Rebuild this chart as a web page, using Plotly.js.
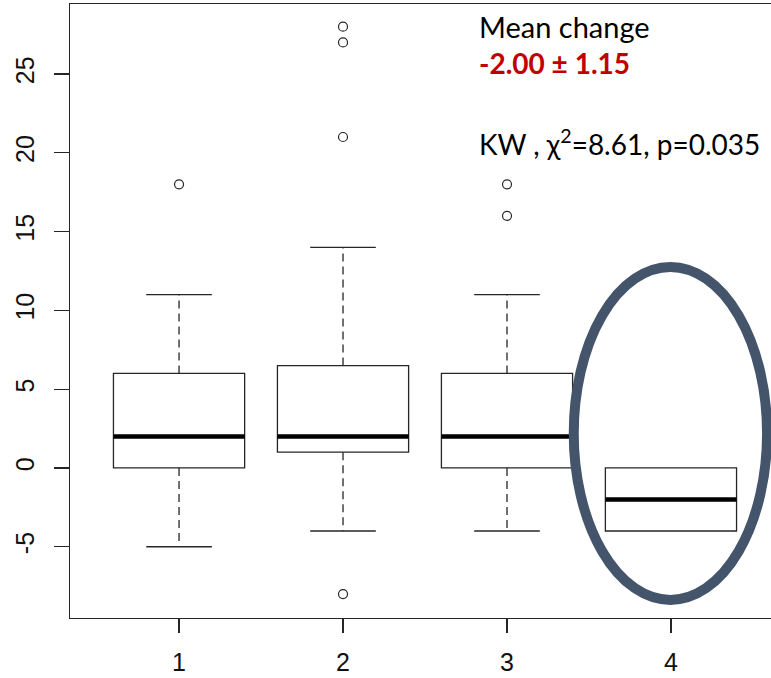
<!DOCTYPE html>
<html>
<head>
<meta charset="utf-8">
<script src="https://cdn.plot.ly/plotly-3.0.1.min.js"></script>
<style>html,body{margin:0;padding:0;background:#fff;}#chart{width:771px;height:678px;}</style>
</head>
<body>
<div id="chart"></div>
<script>
// ---- data ----
const groups = [1, 2, 3, 4];
const tickLabels = ['1', '2', '3', '4'];
const q1 = [0, 1, 0, -4];
const medians = [2, 2, 2, -2];
const q3 = [6, 6.5, 6, 0];
const whiskerLow = [-5, -4, -4, -4];
const whiskerHigh = [11, 14, 11, 0];
const outlierGroup = [1, 2, 2, 2, 2, 3, 3];
const outlierValue = [18, 28, 27, 21, -8, 18, 16];
const yTicks = [-5, 0, 5, 10, 15, 20, 25];

// ---- styling constants ----
const boxWidth = 0.8;
const capHalf = 0.2;
const ink = '#262626';

// whiskers (dashed) built from the arrays
const wx = [], wy = [];
groups.forEach((g, i) => {
  if (whiskerHigh[i] > q3[i]) { wx.push(g, g, null); wy.push(q3[i], whiskerHigh[i], null); }
  if (whiskerLow[i] < q1[i]) { wx.push(g, g, null); wy.push(q1[i], whiskerLow[i], null); }
});
// caps (solid)
const cx = [], cy = [];
groups.forEach((g, i) => {
  if (whiskerHigh[i] > q3[i]) { cx.push(g - capHalf, g + capHalf, null); cy.push(whiskerHigh[i], whiskerHigh[i], null); }
  if (whiskerLow[i] < q1[i]) { cx.push(g - capHalf, g + capHalf, null); cy.push(whiskerLow[i], whiskerLow[i], null); }
});
// medians (thick)
const mx = [], my = [];
groups.forEach((g, i) => { mx.push(g - boxWidth / 2, g + boxWidth / 2, null); my.push(medians[i], medians[i], null); });

const traces = [
  { type: 'scatter', mode: 'lines', x: wx, y: wy, line: { color: ink, width: 1.3, dash: '8px,5px' }, hoverinfo: 'skip', showlegend: false },
  { type: 'scatter', mode: 'lines', x: cx, y: cy, line: { color: ink, width: 1.3 }, hoverinfo: 'skip', showlegend: false },
  { type: 'box', x: groups, q1: q1, median: medians, q3: q3, lowerfence: q1, upperfence: q3,
    width: boxWidth, whiskerwidth: 0, fillcolor: '#ffffff', line: { color: ink, width: 1.3 },
    boxpoints: false, hoverinfo: 'skip', showlegend: false },
  { type: 'scatter', mode: 'lines', x: mx, y: my, line: { color: '#000', width: 4.5 }, hoverinfo: 'skip', showlegend: false },
  { type: 'scatter', mode: 'markers', x: outlierGroup, y: outlierValue,
    marker: { symbol: 'circle-open', size: 9, color: ink, line: { width: 1.2 } }, hoverinfo: 'skip', showlegend: false }
];

const axisFont = { family: '"Liberation Sans", Arial, sans-serif', size: 25, color: '#111' };
const noteFont = 'Lato, "Open Sans", sans-serif';
const noteX = (477 - 70) / 701;

const layout = {
  width: 771, height: 678,
  margin: { l: 70, r: 0, t: 4, b: 60, pad: 0 },
  paper_bgcolor: '#fff', plot_bgcolor: '#fff',
  showlegend: false,
  xaxis: {
    range: [0.335, 4.61], tickmode: 'array', tickvals: groups, ticktext: tickLabels,
    showgrid: false, zeroline: false, showline: true, mirror: true, linecolor: ink, linewidth: 1.3,
    ticks: 'outside', ticklen: 14, tickwidth: 1.3, tickcolor: ink, tickfont: axisFont,
    ticklabelstandoff: 8
  },
  yaxis: {
    range: [-9.52, 29.44], tickmode: 'array', tickvals: yTicks, ticktext: yTicks.map(String),
    showgrid: false, zeroline: false, showline: true, mirror: false, linecolor: ink, linewidth: 1.3,
    ticks: 'outside', ticklen: 15, tickwidth: 1.3, tickcolor: ink, tickfont: axisFont, tickangle: -90,
    ticklabelstandoff: 10
  },
  shapes: [
    { type: 'circle', xref: 'x', yref: 'y', x0: 3.407, x1: 4.586, y0: -8.37, y1: 12.75,
      line: { color: '#44546A', width: 10 }, fillcolor: 'rgba(0,0,0,0)' }
  ],
  annotations: [
    { xref: 'paper', yref: 'paper', x: noteX, y: (618 - 26) / 614, xanchor: 'left', yanchor: 'middle',
      text: 'Mean change', showarrow: false, font: { family: noteFont, size: 29, color: '#000' } },
    { xref: 'paper', yref: 'paper', x: noteX, y: (618 - 63) / 614, xanchor: 'left', yanchor: 'middle',
      text: '<b>-2.00 ± 1.15</b>', showarrow: false, font: { family: noteFont, size: 28, color: '#C00000' } },
    { xref: 'paper', yref: 'paper', x: noteX, y: (618 - 142) / 614, xanchor: 'left', yanchor: 'middle',
      text: 'KW , χ<sup>2</sup>=8.61, p=0.035', showarrow: false, font: { family: noteFont, size: 28, color: '#000' } }
  ]
};

Plotly.newPlot('chart', traces, layout, { staticPlot: true, displayModeBar: false });
</script>
</body>
</html>
